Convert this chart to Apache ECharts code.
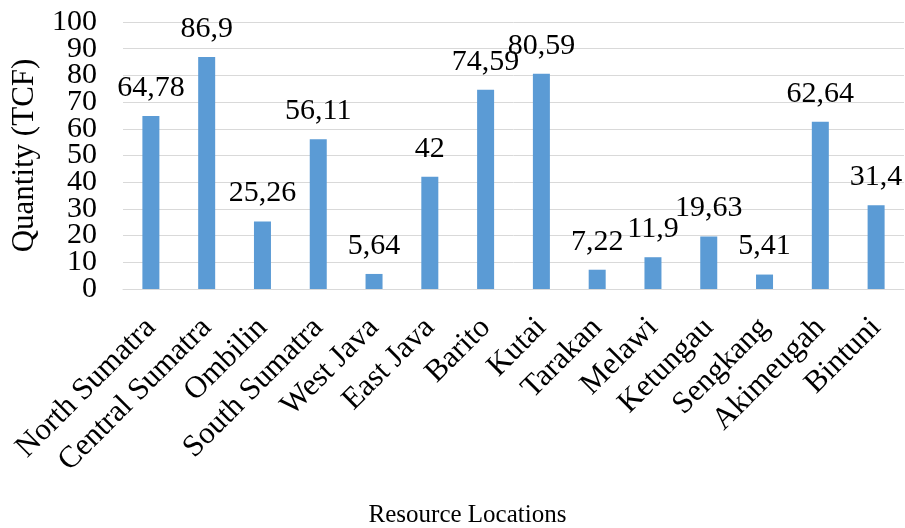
<!DOCTYPE html>
<html>
<head>
<meta charset="utf-8">
<script src="https://cdn.jsdelivr.net/npm/echarts@6/dist/echarts.min.js"></script>
<style>html,body{margin:0;padding:0;background:#fff;}#c{width:905px;height:528px;}</style>
</head>
<body>
<div id="c"></div>
<script>
const categories = ["North Sumatra","Central Sumatra","Ombilin","South Sumatra","West Java","East Java","Barito","Kutai","Tarakan","Melawi","Ketungau","Sengkang","Akimeugah","Bintuni"];
const values = [64.78, 86.9, 25.26, 56.11, 5.64, 42, 74.59, 80.59, 7.22, 11.9, 19.63, 5.41, 62.64, 31.4];
const yTicks = [0,10,20,30,40,50,60,70,80,90,100];

const FONT = '"Liberation Serif", "Times New Roman", serif';
const chart = echarts.init(document.getElementById('c'), null, {renderer:'canvas'});

function yAxisDef(showSet, main) {
  return {
    type: 'value',
    position: 'left',
    min: 0, max: 100, interval: 10,
    name: main ? 'Quantity (TCF)' : '',
    nameLocation: 'middle',
    nameGap: 83,
    nameTextStyle: {fontFamily: FONT, fontSize: 31, color: '#000'},
    axisLine: {show: false},
    axisTick: {show: false},
    splitLine: {show: main, lineStyle: {color: '#d9d9d9', width: 1}},
    axisLabel: {fontFamily: FONT, fontSize: 30, color: '#000', margin: 26,
      showMinLabel: true, showMaxLabel: true, hideOverlap: false,
      formatter: v => showSet.includes(v) ? String(v) : ''}
  };
}

chart.setOption({
  animation: false,
  grid: {left: 123, right: 1, top: 22, bottom: 239, outerBoundsMode: 'none', containLabel: false},
  xAxis: {
    type: 'category',
    data: categories,
    name: 'Resource Locations',
    nameLocation: 'middle',
    nameGap: 214,
    nameTextStyle: {fontFamily: FONT, fontSize: 25, color: '#000', padding: [0, 92, 0, 0]},
    axisLine: {lineStyle: {color: '#d9d9d9', width: 1}},
    axisTick: {show: false},
    axisLabel: {rotate: 45, fontFamily: FONT, fontSize: 31, color: '#000', margin: 34, interval: 0, hideOverlap: false}
  },
  yAxis: [
    yAxisDef(yTicks.filter((v, i) => i % 2 === 0), true),
    yAxisDef(yTicks.filter((v, i) => i % 2 === 1), false)
  ],
  series: [{
    type: 'bar',
    data: values,
    yAxisIndex: 0,
    barWidth: 17,
    itemStyle: {color: '#5b9bd5'},
    label: {
      show: true, position: 'top', distance: 13,
      fontFamily: FONT, fontSize: 30, color: '#000',
      formatter: p => String(p.value).replace('.', ',')
    },
    labelLayout: {hideOverlap: false}
  }]
});
</script>
</body>
</html>
